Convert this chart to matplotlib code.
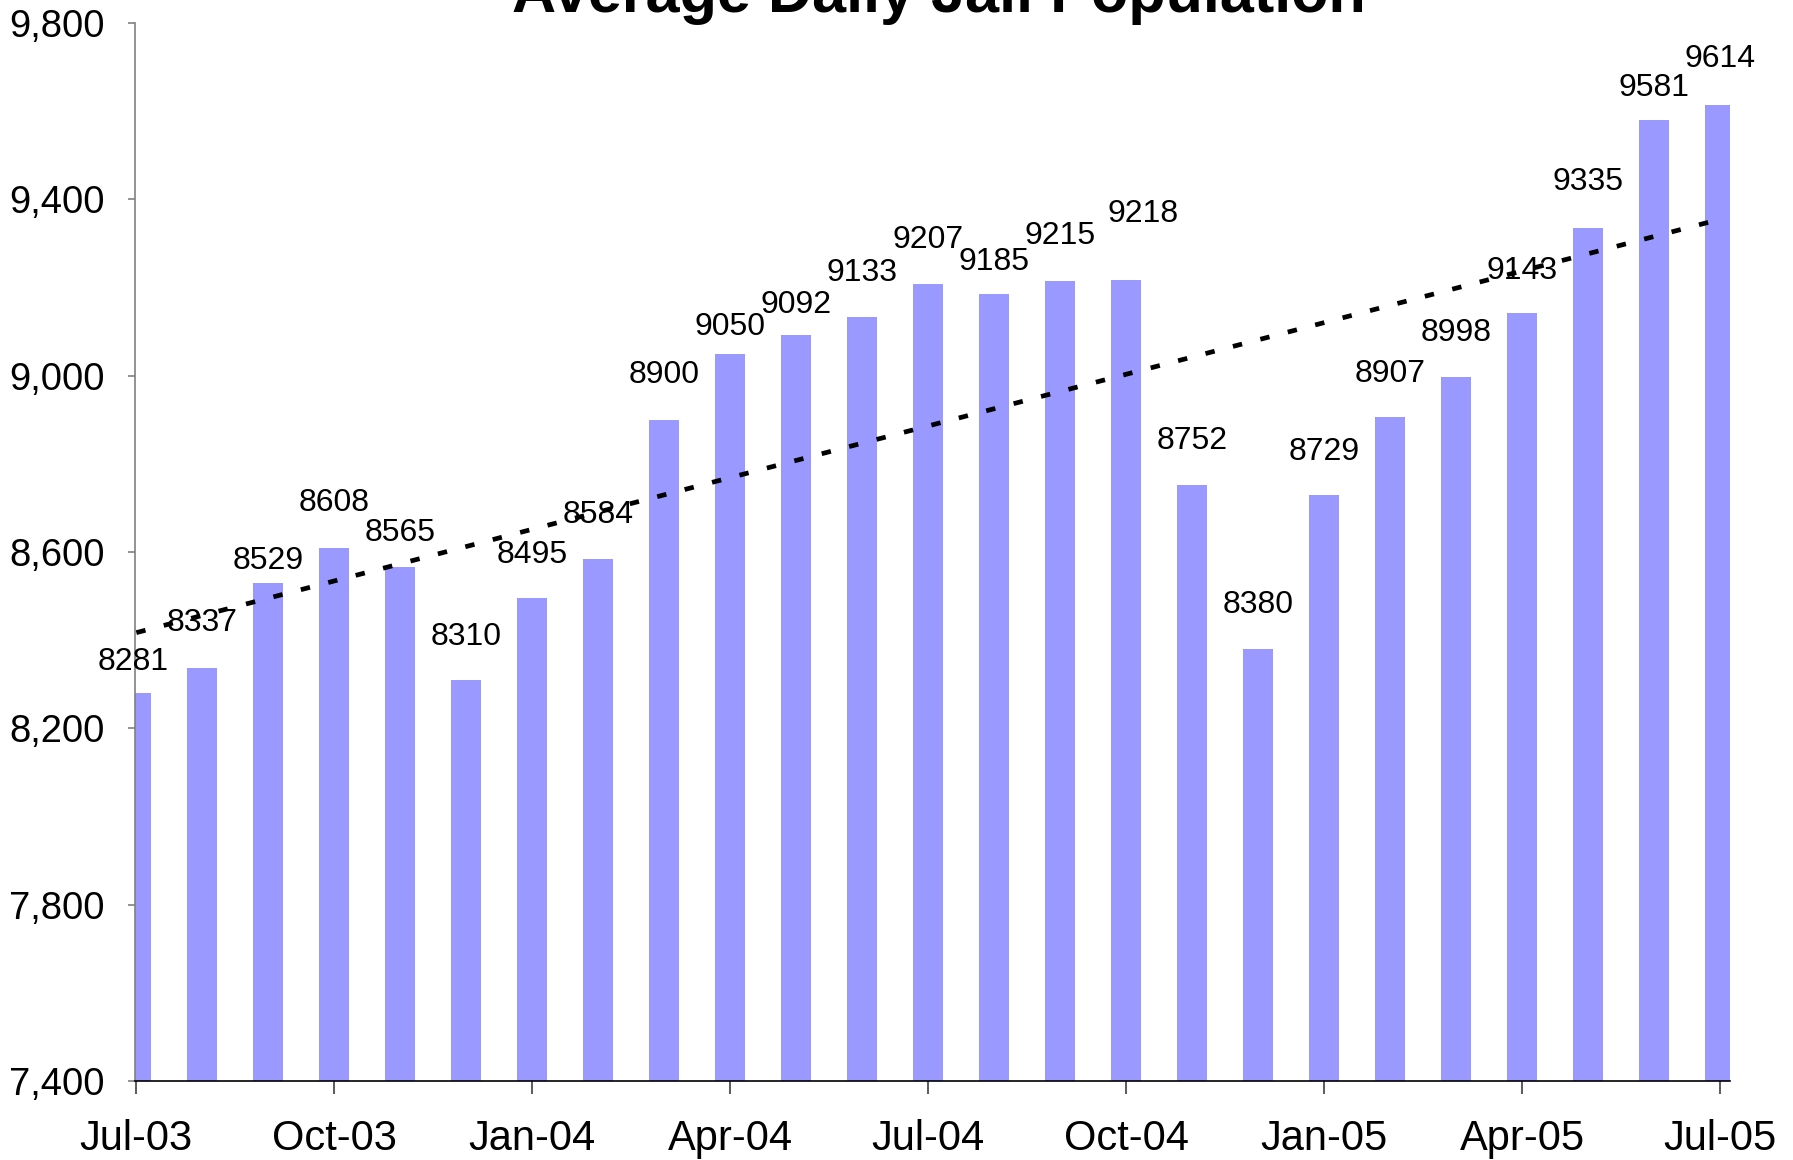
import numpy as np
import matplotlib.pyplot as plt

plt.rcParams['font.family'] = ['Liberation Sans', 'DejaVu Sans']

# monthly average daily jail population, Jul-03 .. Jul-05
months = ['Jul-03', 'Aug-03', 'Sep-03', 'Oct-03', 'Nov-03', 'Dec-03',
          'Jan-04', 'Feb-04', 'Mar-04', 'Apr-04', 'May-04', 'Jun-04',
          'Jul-04', 'Aug-04', 'Sep-04', 'Oct-04', 'Nov-04', 'Dec-04',
          'Jan-05', 'Feb-05', 'Mar-05', 'Apr-05', 'May-05', 'Jun-05', 'Jul-05']
population = [8281, 8337, 8529, 8608, 8565, 8310,
              8495, 8584, 8900, 9050, 9092, 9133,
              9207, 9185, 9215, 9218, 8752, 8380,
              8729, 8907, 8998, 9143, 9335, 9581, 9614]
y_ticks = [7400, 7800, 8200, 8600, 9000, 9400, 9800]

# label nudges (points above bar top, sideways shift)
label_dy = [22, 32, 16, 33, 25, 31, 31, 32, 32, 19, 22, 32,
            32, 23, 32, 47, 32, 32, 31, 31, 31, 30, 33, 23, 33]
label_dx = [-2, 0, 0, 0, 0, 0, 0, 0, 0, 0, 0, 0,
            0, 0, 0, 12, 0, 0, 0, 0, 0, 0, 0, 0, 0]

x = np.arange(len(months))

fig = plt.figure(figsize=(17.93, 11.6), dpi=100)
ax = fig.add_axes([0.0753, 0.0681, 0.8896, 0.9121])

ax.bar(x, population, width=0.45, color='#9999FF', zorder=2)

# linear trend line like the excel one
k, b = np.polyfit(x, population, 1)
ax.plot(x, k * x + b, color='black', linewidth=3.4,
        linestyle=(0, (2, 4)), dash_capstyle='butt', zorder=3)

for i, v in enumerate(population):
    ax.annotate(str(v), (x[i], v), xytext=(label_dx[i], label_dy[i]),
                textcoords='offset points', ha='center', va='center',
                fontsize=23, zorder=4)

ax.set_xlim(-0.02, 24.15)
ax.set_ylim(7400, 9800)
ax.set_yticks(y_ticks)
ax.set_yticklabels(['{:,}'.format(t) for t in y_ticks])
ax.set_xticks(x[::3])
ax.set_xticklabels(months[::3])

ax.spines['top'].set_visible(False)
ax.spines['right'].set_visible(False)
ax.spines['left'].set_color('#808080')
ax.spines['left'].set_linewidth(1.2)
ax.spines['bottom'].set_color('black')
ax.spines['bottom'].set_linewidth(1.2)

ax.tick_params(axis='y', direction='out', length=5, width=1.2,
               color='#808080', labelsize=27.5, pad=17)
ax.tick_params(axis='x', direction='out', length=9.5, width=1.2,
               color='#404040', labelsize=30, pad=18)

fig.text(0.5237, 0.9897, 'Average Daily Jail Population', ha='center',
         va='baseline', fontsize=44, fontweight='bold')

plt.savefig('out.png', dpi=100)
